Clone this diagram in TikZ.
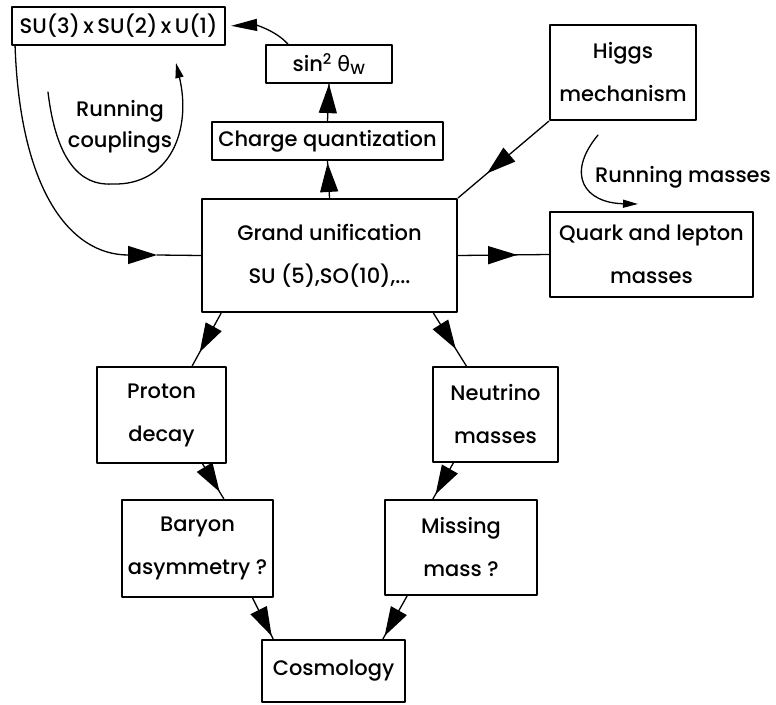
\documentclass[tikz,border=0pt]{standalone}
\usepackage{fontspec}
\setmainfont{Poppins Medium}
\newfontfamily\grk{DejaVu Sans}
\usetikzlibrary{arrows.meta,decorations.markings}

\begin{document}
\begin{tikzpicture}[
    x=1pt, y=-1pt,
    line cap=round,
    line join=round,
    box/.style={draw=black, line width=2.2pt, inner sep=0pt, align=center,
                font=\fontsize{21}{43}\selectfont},
    lab/.style={align=center, inner sep=0pt, font=\fontsize{21}{31}\selectfont},
    conn/.style={draw=black, line width=1.3pt},
    flow/.style={conn, postaction={decorate},
                 decoration={markings, mark=at position #1 with {\arrow{Triangle[length=29pt,width=18pt]}}}},
    small/.style={conn, -{Triangle[length=15pt,width=8pt]}}
]
\useasboundingbox (0,0) rectangle (776,704);

  \node[box, minimum width=213pt, minimum height=38pt] (su) at (118.5,26) {SU(3)\,x\,SU(2)\,x\,U(1)};
  \node[box, minimum width=126pt, minimum height=38pt] (sinw) at (329,64) {sin\textsuperscript{2} {\grk θ}\textsubscript{W}};
  \node[box, minimum width=231pt, minimum height=38pt] (charge) at (327.5,141) {Charge quantization};
  \node[box, minimum width=255pt, minimum height=113pt] (gut) at (329.5,255.5) {Grand unification\\SU (5),SO(10),...};
  \node[box, minimum width=146pt, minimum height=95pt] (higgs) at (623,72.5) {Higgs\\mechanism};
  \node[box, minimum width=203pt, minimum height=85pt] (quark) at (651.5,254.5) {Quark and lepton\\masses};
  \node[box, minimum width=129pt, minimum height=96pt] (proton) at (161.5,415) {Proton\\decay};
  \node[box, minimum width=125pt, minimum height=95pt] (neutrino) at (495.5,414.5) {Neutrino\\masses};
  \node[box, minimum width=151pt, minimum height=97pt] (baryon) at (197.5,548.5) {Baryon\\asymmetry ?};
  \node[box, minimum width=152pt, minimum height=95pt] (missing) at (461,547.5) {Missing\\mass ?};
  \node[box, minimum width=143pt, minimum height=62pt] (cosmo) at (333.5,671) {Cosmology};

  \node[lab] (runcoup) at (120,127) {Running\\couplings};
  \node[lab, anchor=west] (runmass) at (595,177) {Running masses};

  \coordinate (cin) at (157,255);
  \coordinate (rc0) at (48,92);
  \coordinate (rc1) at (176,63);
  \coordinate (rm0) at (598,135);
  \coordinate (rm1) at (638,204);

  % running of the couplings
  \draw[conn, -{Triangle[length=29pt,width=18pt]}] (su.191) .. controls (20,190) and (70,255) .. (cin);
  \draw[conn] (cin) -- (gut.west);
  \draw[small] (rc0) .. controls (56,160) and (80,186) .. (112,184) .. controls (170,186) and (192,130) .. (rc1);
  \draw[conn, shorten >=5pt, -{Triangle[length=26pt,width=12pt]}] (sinw.154) .. controls (275,30) and (255,25) .. (su.east);

  \draw[flow=1] (charge.north) -- (sinw.south);
  \draw[flow=0.95] (gut.north) -- (charge.south);
  \draw[flow=0.68] (higgs.south west) -- (gut.north east);
  \draw[flow=0.65] (gut.east) -- (quark.west);
  \draw[small] (rm0) .. controls (565,175) and (585,203) .. (rm1);

  \draw[flow=0.74] (gut.208) -- (proton.58);
  \draw[flow=0.68] (gut.331) -- (neutrino.121);
  \draw[flow=0.8] (proton.310) -- (baryon.62);
  \draw[flow=0.87] (neutrino.229) -- (missing.120);
  \draw[flow=0.93] (baryon.318) -- (cosmo.152);
  \draw[flow=0.93] (missing.222) -- (cosmo.33);

\end{tikzpicture}
\end{document}
